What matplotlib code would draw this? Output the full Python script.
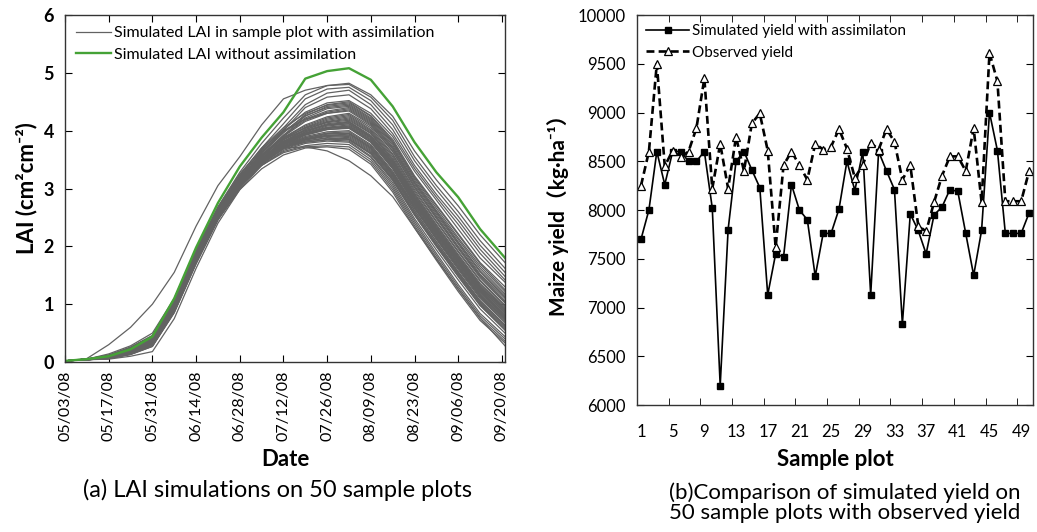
import numpy as np
import matplotlib.pyplot as plt
import matplotlib.dates as mdates
from matplotlib.ticker import FixedLocator, NullFormatter

plt.rcParams['font.family'] = ['Lato', 'Noto Sans CJK SC', 'DejaVu Sans']

# ---- LAI curves (days after 2008-05-03) ----
days = [0, 7, 14, 21, 28, 35, 42, 49, 56, 63, 70, 77, 84, 91, 98, 105, 112, 119, 126, 133, 141]

lai_no_assim = [0.02, 0.05, 0.10, 0.22, 0.44, 1.10, 1.98, 2.75, 3.38, 3.88, 4.32, 4.90,
                5.03, 5.08, 4.88, 4.42, 3.80, 3.28, 2.85, 2.30, 1.80]

lai_assim = [
    [0.02, 0.06, 0.30, 0.60, 1.00, 1.55, 2.35, 3.05, 3.55, 4.10, 4.55, 4.70, 4.78, 4.82, 4.62, 4.25, 3.65, 3.15, 2.70, 2.20, 1.72],
    [0.02, 0.05, 0.09, 0.20, 0.40, 1.02, 1.90, 2.68, 3.28, 3.78, 4.22, 4.62, 4.78, 4.80, 4.58, 4.18, 3.55, 3.05, 2.60, 2.10, 1.62],
    [0.02, 0.05, 0.08, 0.18, 0.36, 0.98, 1.85, 2.62, 3.22, 3.70, 4.12, 4.55, 4.72, 4.75, 4.52, 4.10, 3.48, 2.98, 2.52, 2.02, 1.55],
    [0.02, 0.05, 0.08, 0.17, 0.34, 0.95, 1.82, 2.58, 3.18, 3.66, 4.05, 4.45, 4.65, 4.70, 4.45, 4.02, 3.40, 2.90, 2.45, 1.95, 1.48],
    [0.02, 0.04, 0.07, 0.16, 0.32, 0.92, 1.78, 2.55, 3.15, 3.62, 4.00, 4.40, 4.58, 4.62, 4.38, 3.95, 3.35, 2.85, 2.38, 1.88, 1.42],
    [0.02, 0.05, 0.09, 0.19, 0.38, 1.00, 1.86, 2.62, 3.20, 3.66, 4.02, 4.32, 4.48, 4.52, 4.30, 3.90, 3.30, 2.80, 2.30, 1.80, 1.38],
    [0.02, 0.05, 0.08, 0.17, 0.33, 0.94, 1.80, 2.56, 3.14, 3.60, 3.96, 4.28, 4.45, 4.50, 4.26, 3.85, 3.22, 2.72, 2.22, 1.72, 1.30],
    [0.02, 0.04, 0.07, 0.15, 0.30, 0.90, 1.76, 2.52, 3.10, 3.56, 3.92, 4.25, 4.42, 4.46, 4.22, 3.80, 3.18, 2.66, 2.15, 1.66, 1.22],
    [0.02, 0.05, 0.10, 0.22, 0.42, 1.05, 1.92, 2.66, 3.24, 3.70, 4.05, 4.30, 4.44, 4.48, 4.25, 3.82, 3.20, 2.70, 2.20, 1.70, 1.25],
    [0.02, 0.05, 0.08, 0.18, 0.35, 0.96, 1.82, 2.58, 3.16, 3.62, 3.98, 4.26, 4.40, 4.44, 4.20, 3.78, 3.15, 2.62, 2.12, 1.62, 1.18],
    [0.02, 0.04, 0.06, 0.14, 0.28, 0.88, 1.74, 2.50, 3.08, 3.54, 3.90, 4.22, 4.38, 4.42, 4.18, 3.75, 3.12, 2.60, 2.08, 1.58, 1.15],
    [0.02, 0.05, 0.09, 0.20, 0.39, 1.01, 1.88, 2.63, 3.20, 3.64, 3.98, 4.20, 4.34, 4.40, 4.16, 3.72, 3.10, 2.58, 2.06, 1.56, 1.12],
    [0.02, 0.05, 0.08, 0.17, 0.33, 0.93, 1.79, 2.55, 3.13, 3.58, 3.92, 4.18, 4.32, 4.38, 4.14, 3.70, 3.08, 2.55, 2.04, 1.52, 1.10],
    [0.02, 0.04, 0.07, 0.16, 0.31, 0.91, 1.77, 2.53, 3.11, 3.56, 3.90, 4.16, 4.30, 4.36, 4.12, 3.68, 3.05, 2.52, 2.00, 1.50, 1.06],
    [0.02, 0.05, 0.12, 0.26, 0.46, 1.08, 1.94, 2.68, 3.25, 3.68, 4.00, 4.20, 4.30, 4.34, 4.10, 3.65, 3.02, 2.50, 1.98, 1.48, 1.04],
    [0.02, 0.05, 0.08, 0.18, 0.35, 0.95, 1.80, 2.56, 3.12, 3.56, 3.88, 4.10, 4.24, 4.30, 4.08, 3.64, 3.02, 2.48, 1.96, 1.46, 1.02],
    [0.02, 0.05, 0.09, 0.19, 0.37, 0.98, 1.84, 2.58, 3.14, 3.57, 3.88, 4.08, 4.22, 4.28, 4.05, 3.60, 2.98, 2.44, 1.92, 1.42, 0.98],
    [0.02, 0.04, 0.07, 0.15, 0.30, 0.90, 1.75, 2.50, 3.06, 3.50, 3.84, 4.06, 4.20, 4.26, 4.02, 3.58, 2.95, 2.42, 1.90, 1.40, 0.96],
    [0.02, 0.05, 0.08, 0.17, 0.34, 0.94, 1.80, 2.55, 3.10, 3.54, 3.86, 4.05, 4.18, 4.24, 4.00, 3.55, 2.92, 2.38, 1.86, 1.36, 0.94],
    [0.02, 0.05, 0.10, 0.21, 0.40, 1.02, 1.88, 2.62, 3.16, 3.58, 3.88, 4.04, 4.16, 4.22, 3.98, 3.52, 2.90, 2.36, 1.84, 1.34, 0.92],
    [0.02, 0.04, 0.06, 0.13, 0.27, 0.86, 1.70, 2.46, 3.02, 3.46, 3.80, 4.02, 4.15, 4.20, 3.96, 3.50, 2.88, 2.34, 1.82, 1.32, 0.90],
    [0.02, 0.05, 0.08, 0.18, 0.35, 0.96, 1.82, 2.56, 3.10, 3.52, 3.84, 4.02, 4.14, 4.18, 3.95, 3.48, 2.86, 2.32, 1.80, 1.30, 0.88],
    [0.02, 0.05, 0.09, 0.19, 0.37, 0.97, 1.83, 2.57, 3.11, 3.52, 3.82, 4.00, 4.12, 4.16, 3.92, 3.46, 2.84, 2.30, 1.78, 1.28, 0.86],
    [0.02, 0.04, 0.07, 0.16, 0.32, 0.92, 1.78, 2.53, 3.08, 3.50, 3.80, 3.98, 4.10, 4.15, 3.90, 3.44, 2.82, 2.28, 1.76, 1.26, 0.85],
    [0.02, 0.05, 0.08, 0.17, 0.33, 0.93, 1.79, 2.54, 3.09, 3.50, 3.80, 3.98, 4.10, 4.14, 3.90, 3.45, 2.84, 2.30, 1.80, 1.30, 0.90],
    [0.02, 0.05, 0.11, 0.24, 0.44, 1.06, 1.92, 2.64, 3.18, 3.58, 3.86, 4.00, 4.10, 4.12, 3.88, 3.42, 2.80, 2.26, 1.74, 1.24, 0.82],
    [0.02, 0.04, 0.07, 0.15, 0.30, 0.89, 1.74, 2.50, 3.05, 3.47, 3.78, 3.96, 4.08, 4.12, 3.88, 3.40, 2.78, 2.24, 1.72, 1.22, 0.80],
    [0.02, 0.05, 0.08, 0.18, 0.36, 0.96, 1.82, 2.56, 3.10, 3.50, 3.80, 3.96, 4.06, 4.10, 3.86, 3.40, 2.80, 2.28, 1.78, 1.28, 0.84],
    [0.02, 0.05, 0.09, 0.20, 0.38, 0.99, 1.85, 2.58, 3.12, 3.52, 3.80, 3.95, 4.05, 4.08, 3.84, 3.38, 2.76, 2.22, 1.70, 1.20, 0.78],
    [0.02, 0.04, 0.06, 0.14, 0.29, 0.88, 1.72, 2.48, 3.04, 3.46, 3.76, 3.94, 4.04, 4.08, 3.84, 3.36, 2.74, 2.20, 1.68, 1.18, 0.76],
    [0.02, 0.05, 0.08, 0.17, 0.34, 0.94, 1.80, 2.54, 3.08, 3.48, 3.78, 3.94, 4.04, 4.06, 3.82, 3.36, 2.76, 2.24, 1.74, 1.24, 0.80],
    [0.02, 0.05, 0.08, 0.18, 0.35, 0.95, 1.81, 2.55, 3.09, 3.49, 3.78, 3.93, 4.02, 4.05, 3.80, 3.34, 2.72, 2.18, 1.66, 1.16, 0.74],
    [0.02, 0.04, 0.07, 0.15, 0.31, 0.90, 1.76, 2.51, 3.06, 3.46, 3.76, 3.92, 4.02, 4.04, 3.80, 3.35, 2.75, 2.22, 1.72, 1.22, 0.78],
    [0.02, 0.05, 0.08, 0.17, 0.33, 0.93, 1.78, 2.53, 3.07, 3.47, 3.76, 3.90, 3.98, 4.00, 3.76, 3.30, 2.70, 2.16, 1.64, 1.14, 0.72],
    [0.02, 0.05, 0.09, 0.19, 0.37, 0.97, 1.83, 2.56, 3.09, 3.48, 3.76, 3.88, 3.96, 3.98, 3.74, 3.28, 2.68, 2.14, 1.62, 1.12, 0.70],
    [0.02, 0.04, 0.07, 0.16, 0.32, 0.91, 1.76, 2.50, 3.04, 3.44, 3.72, 3.86, 3.94, 3.96, 3.72, 3.26, 2.66, 2.12, 1.60, 1.10, 0.68],
    [0.02, 0.05, 0.08, 0.18, 0.35, 0.95, 1.80, 2.54, 3.07, 3.46, 3.74, 3.88, 3.95, 3.95, 3.70, 3.25, 2.66, 2.14, 1.64, 1.16, 0.74],
    [0.02, 0.05, 0.10, 0.22, 0.41, 1.03, 1.88, 2.60, 3.12, 3.50, 3.74, 3.86, 3.92, 3.94, 3.70, 3.24, 2.62, 2.08, 1.56, 1.06, 0.64],
    [0.02, 0.04, 0.06, 0.13, 0.27, 0.85, 1.70, 2.46, 3.01, 3.42, 3.70, 3.84, 3.92, 3.92, 3.68, 3.22, 2.62, 2.08, 1.56, 1.06, 0.64],
    [0.02, 0.05, 0.08, 0.17, 0.34, 0.94, 1.79, 2.53, 3.06, 3.45, 3.72, 3.85, 3.91, 3.90, 3.66, 3.20, 2.58, 2.04, 1.52, 1.02, 0.60],
    [0.02, 0.05, 0.09, 0.19, 0.37, 0.97, 1.82, 2.55, 3.08, 3.46, 3.72, 3.84, 3.90, 3.88, 3.64, 3.18, 2.58, 2.04, 1.54, 1.04, 0.62],
    [0.02, 0.04, 0.07, 0.15, 0.30, 0.89, 1.74, 2.49, 3.03, 3.43, 3.70, 3.82, 3.88, 3.86, 3.62, 3.16, 2.55, 2.00, 1.48, 0.98, 0.56],
    [0.02, 0.05, 0.08, 0.18, 0.35, 0.95, 1.80, 2.54, 3.06, 3.44, 3.70, 3.82, 3.87, 3.85, 3.60, 3.15, 2.55, 2.02, 1.50, 1.00, 0.58],
    [0.02, 0.05, 0.12, 0.25, 0.45, 1.06, 1.90, 2.62, 3.12, 3.48, 3.72, 3.80, 3.84, 3.82, 3.56, 3.10, 2.48, 1.94, 1.42, 0.92, 0.50],
    [0.02, 0.04, 0.06, 0.14, 0.28, 0.87, 1.72, 2.47, 3.02, 3.42, 3.68, 3.80, 3.85, 3.84, 3.60, 3.14, 2.54, 2.00, 1.48, 0.98, 0.55],
    [0.02, 0.04, 0.05, 0.10, 0.18, 0.75, 1.62, 2.40, 2.98, 3.40, 3.66, 3.78, 3.82, 3.80, 3.54, 3.06, 2.44, 1.88, 1.34, 0.84, 0.44],
    [0.02, 0.05, 0.08, 0.17, 0.34, 0.93, 1.78, 2.52, 3.04, 3.40, 3.64, 3.74, 3.78, 3.76, 3.50, 3.02, 2.40, 1.84, 1.30, 0.80, 0.40],
    [0.02, 0.05, 0.09, 0.20, 0.38, 0.98, 1.82, 2.54, 3.05, 3.40, 3.62, 3.72, 3.74, 3.72, 3.46, 2.98, 2.36, 1.80, 1.26, 0.76, 0.36],
    [0.02, 0.04, 0.07, 0.15, 0.30, 0.88, 1.72, 2.46, 2.98, 3.34, 3.58, 3.70, 3.72, 3.68, 3.42, 2.94, 2.32, 1.76, 1.22, 0.72, 0.33],
    [0.02, 0.05, 0.14, 0.28, 0.50, 1.10, 1.95, 2.66, 3.15, 3.48, 3.70, 3.72, 3.65, 3.48, 3.22, 2.86, 2.32, 1.78, 1.26, 0.76, 0.28],
]

# ---- yield per sample plot ----
plots = list(range(1, 51))
yield_sim = [7700, 8000, 8600, 8260, 8600, 8600, 8500, 8500, 8600, 8020,
             6200, 7800, 8500, 8600, 8410, 8230, 7130, 7550, 7520, 8260,
             8000, 7900, 7320, 7760, 7760, 8010, 8500, 8200, 8600, 7130,
             8600, 8400, 8210, 6830, 7960, 7790, 7550, 7950, 8030, 8210,
             8190, 7760, 7330, 7790, 9000, 8610, 7760, 7760, 7760, 7970]
yield_obs = [8250, 8600, 9500, 8450, 8610, 8540, 8600, 8840, 9350, 8220,
             8680, 8220, 8750, 8400, 8890, 8990, 8610, 7620, 8460, 8600,
             8460, 8310, 8680, 8620, 8650, 8830, 8630, 8330, 8460, 8690,
             8620, 8830, 8700, 8310, 8460, 7840, 7780, 8080, 8350, 8550,
             8550, 8400, 8840, 8080, 9610, 9320, 8090, 8090, 8090, 8400]

fig = plt.figure(figsize=(10.37, 5.32), dpi=100)

# ---------------- (a) LAI ----------------
ax1 = fig.add_axes([0.0627, 0.3195, 0.4243, 0.6523])
start = np.datetime64('2008-05-03')
dates = start + np.array(days, dtype='timedelta64[D]')

for i, row in enumerate(lai_assim):
    ax1.plot(dates, row, color='#626262', lw=0.9,
             label='Simulated LAI in sample plot with assimilation' if i == 0 else None)
ax1.plot(dates, lai_no_assim, color='#45a236', lw=1.7,
         label='Simulated LAI without assimilation')

ax1.set_ylim(0, 6)
ax1.set_xlim(start, start + np.timedelta64(141, 'D'))
tick_dates = start + np.arange(0, 141, 14).astype('timedelta64[D]')
ax1.set_xticks(tick_dates)
ax1.xaxis.set_major_formatter(mdates.DateFormatter('%m/%d/%y'))
ax1.tick_params(axis='x', labelrotation=90, labelsize=11.5, direction='in',
                top=True, length=5, pad=6)
ax1.tick_params(axis='y', labelsize=13, direction='in', right=True, length=5, pad=8)
for lbl in ax1.get_yticklabels():
    lbl.set_fontweight('bold')
ax1.set_ylabel('LAI (cm²cm⁻²)', fontsize=16, fontweight='bold', labelpad=4)
ax1.set_xlabel('Date', fontsize=16, fontweight='bold', labelpad=6)
ax1.legend(loc='upper left', frameon=False, fontsize=11.5, handlelength=2.2,
           handletextpad=0.15, borderaxespad=0.3, labelspacing=0.45)
for sp in ax1.spines.values():
    sp.set_linewidth(1.0)
    sp.set_color('#333333')
fig.text(0.268, 0.079, '(a) LAI simulations on 50 sample plots',
         ha='center', va='center', fontsize=17)

# ---------------- (b) yield ----------------
ax2 = fig.add_axes([0.6143, 0.2387, 0.3819, 0.7331])
ax2.plot(plots, yield_sim, color='black', lw=1.2, marker='s', ms=4.5,
         mfc='black', mec='black', label='Simulated yield with assimilaton')
ax2.plot(plots, yield_obs, color='black', lw=1.9, ls=(0, (3.0, 1.6)), marker='^',
         ms=6, mfc='white', mec='black', mew=0.9, label='Observed yield')

ax2.set_xlim(0.5, 50.5)
ax2.set_ylim(6000, 10000)
ax2.set_yticks(np.arange(6000, 10001, 500))
ax2.set_xticks(range(1, 51, 4))
ax2.xaxis.set_minor_locator(FixedLocator(np.arange(4.5, 50, 4)))
ax2.xaxis.set_minor_formatter(NullFormatter())
ax2.tick_params(axis='x', which='major', length=0, labelsize=12, pad=14)
ax2.tick_params(axis='x', which='minor', direction='in', length=5, top=True)
ax2.tick_params(axis='y', direction='in', right=True, length=5, labelsize=12, pad=8)
ax2.set_ylabel('Maize yield（kg·ha⁻¹）', fontsize=15, fontweight='bold', labelpad=6)
ax2.set_xlabel('Sample plot', fontsize=16, fontweight='bold', labelpad=6)
ax2.legend(loc='upper left', frameon=False, fontsize=11, handlelength=2.8,
           handletextpad=0.2, borderaxespad=0.2, labelspacing=0.5)
for sp in ax2.spines.values():
    sp.set_linewidth(1.0)
    sp.set_color('#333333')
fig.text(0.815, 0.055, '(b)Comparison of simulated yield on\n50 sample plots with observed yield',
         ha='center', va='center', fontsize=16, linespacing=1.0)

fig.savefig('out.png', dpi=100)
